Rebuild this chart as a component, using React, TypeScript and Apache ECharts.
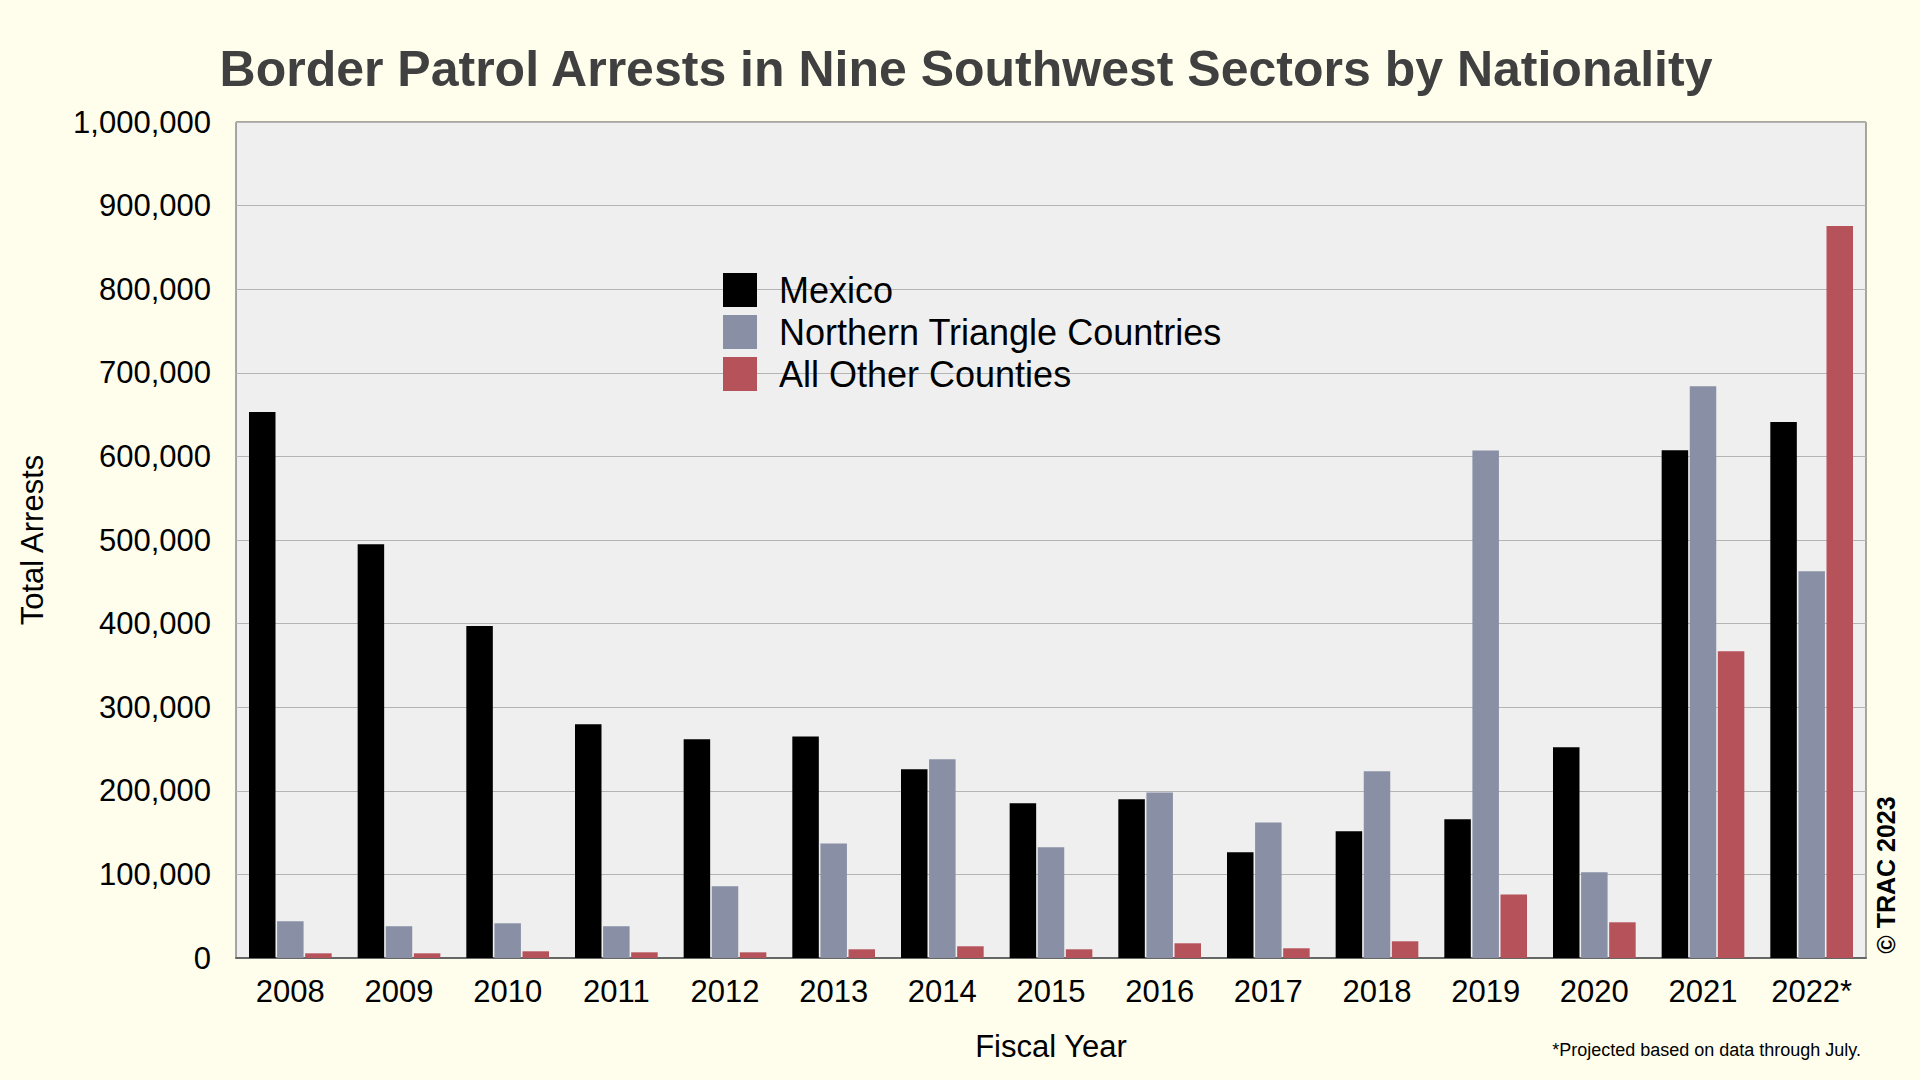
import React, { useEffect, useRef } from 'react';
import * as echarts from 'echarts';

const years = ['2008', '2009', '2010', '2011', '2012', '2013', '2014', '2015', '2016', '2017', '2018', '2019', '2020', '2021', '2022*'];
const mexico = [653000, 495000, 397000, 279500, 261600, 265000, 225700, 185000, 189800, 126400, 151500, 166000, 252000, 607500, 641000];
const northernTriangle = [44000, 38000, 41500, 38000, 85800, 137000, 237700, 132400, 198000, 162000, 223400, 607000, 102500, 684000, 462600];
const allOther = [5600, 5600, 8000, 6800, 6800, 10400, 14000, 10400, 17600, 11600, 20000, 76000, 42700, 367000, 875500];
const seriesNames = ['Mexico', 'Northern Triangle Countries', 'All Other Counties'];
const seriesColors = ['#000000', '#8990a5', '#b5525a'];

const FONT = '"Liberation Sans", Arial, Helvetica, sans-serif';

export default function App() {
  const ref = useRef<HTMLDivElement>(null);
  useEffect(() => {
    const chart = echarts.init(ref.current as HTMLDivElement, null, { renderer: 'svg' });
    const values = [mexico, northernTriangle, allOther];
    chart.setOption({
      animation: false,
      backgroundColor: '#fffeec',
      textStyle: { fontFamily: FONT },
      grid: {
        left: 236,
        right: 54,
        top: 122,
        bottom: 122,
        show: true,
        backgroundColor: '#efefef',
        borderColor: '#555555',
        borderWidth: 1,
      },
      legend: {
        orient: 'vertical',
        left: 718,
        top: 267,
        icon: 'rect',
        itemWidth: 34,
        itemHeight: 34,
        itemGap: 6,
        data: seriesNames,
        textStyle: { fontSize: 36, color: '#000', fontFamily: FONT, padding: [0, 0, 0, 17] },
      },
      xAxis: {
        type: 'category',
        data: years,
        axisTick: { show: false },
        axisLine: { lineStyle: { color: '#666666', width: 2 } },
        axisLabel: { fontSize: 31, color: '#000', margin: 18, fontFamily: FONT },
        splitLine: { show: false },
      },
      yAxis: {
        type: 'value',
        min: 0,
        max: 1000000,
        interval: 100000,
        axisLine: { show: false },
        axisTick: { show: false },
        axisLabel: {
          fontSize: 31,
          color: '#000',
          margin: 25,
          fontFamily: FONT,
          formatter: (v: number) => v.toLocaleString('en-US'),
        },
        splitLine: { lineStyle: { color: '#b4b4b4', width: 1 } },
      },
      series: seriesNames.map((name, i) => ({
        name,
        type: 'bar',
        data: values[i],
        barWidth: 26.5,
        barGap: '6%',
        itemStyle: { color: seriesColors[i] },
      })),
      graphic: [
        {
          type: 'text',
          x: 966,
          y: 69,
          style: {
            text: 'Border Patrol Arrests in Nine Southwest Sectors by Nationality',
            font: `bold 50px ${FONT}`,
            fill: '#404040',
            textAlign: 'center',
            textVerticalAlign: 'middle',
          },
        },
        {
          type: 'text',
          x: 1051,
          y: 1046,
          style: {
            text: 'Fiscal Year',
            font: `31px ${FONT}`,
            fill: '#000',
            textAlign: 'center',
            textVerticalAlign: 'middle',
          },
        },
        {
          type: 'text',
          x: 32,
          y: 540,
          rotation: Math.PI / 2,
          style: {
            text: 'Total Arrests',
            font: `31px ${FONT}`,
            fill: '#000',
            textAlign: 'center',
            textVerticalAlign: 'middle',
          },
        },
        {
          type: 'text',
          x: 1886,
          y: 875,
          rotation: Math.PI / 2,
          style: {
            text: '© TRAC 2023',
            font: `bold 25px ${FONT}`,
            fill: '#000',
            textAlign: 'center',
            textVerticalAlign: 'middle',
          },
        },
        {
          type: 'text',
          x: 1861,
          y: 1050,
          style: {
            text: '*Projected based on data through July.',
            font: `18px ${FONT}`,
            fill: '#000',
            textAlign: 'right',
            textVerticalAlign: 'middle',
          },
        },
      ],
    });
    return () => chart.dispose();
  }, []);
  return (
    <div
      ref={ref}
      style={{ position: 'fixed', left: 0, top: 0, width: 1920, height: 1080, background: '#fffeec' }}
    />
  );
}
